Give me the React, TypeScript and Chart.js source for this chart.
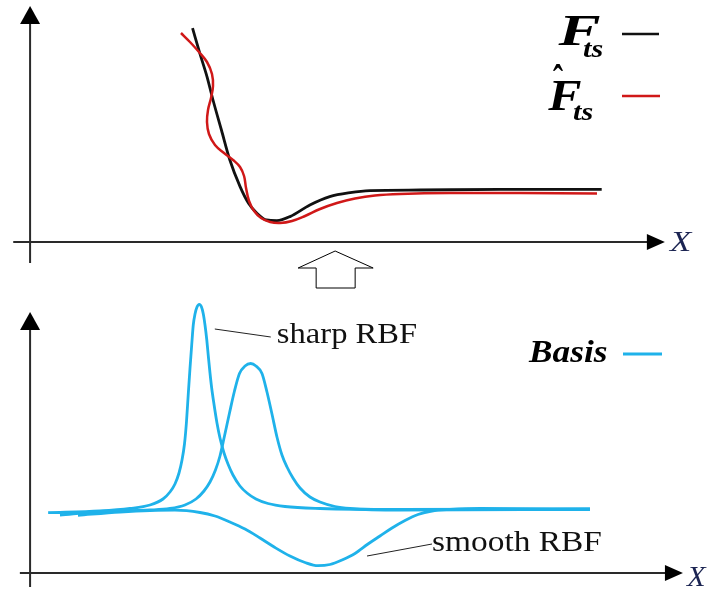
import React, { useEffect, useRef } from "react";
import { Chart, registerables } from "chart.js";

Chart.register(...registerables);

const W = 707;
const TOP_H = 290;
const BOTTOM_H = 302;

// shared separation axis (arbitrary units)
const X_MIN = -0.5;
const X_MAX = 11.25;

// ---------- upper panel: tip–sample force ----------
const TOP_Y_MIN = -2.4;
const TOP_Y_MAX = 12.1;

// exact force F_ts
const ftsX = [2.70, 2.82, 2.94, 3.04, 3.18, 3.32, 3.49, 3.63, 3.77, 3.93, 4.10, 4.32, 4.65, 4.98, 5.32, 5.65, 6.48, 7.81, 9.50];
const ftsY = [10.69, 9.44, 8.27, 7.10, 5.60, 4.10, 2.77, 1.94, 1.44, 1.10, 1.07, 1.27, 1.85, 2.27, 2.47, 2.57, 2.60, 2.63, 2.63];

// reconstructed force F̂_ts (wiggles around the exact curve)
const fitX = [2.508, 2.657, 2.807, 2.940, 3.023, 3.040, 3.007, 2.957, 2.940, 2.973, 3.073, 3.223, 3.373, 3.489, 3.556, 3.589, 3.639, 3.723, 3.839, 3.989, 4.153, 4.353, 4.570, 4.819, 5.100, 5.400, 5.732, 6.148, 6.979, 8.142, 9.422];
const fitY = [10.45, 10.0, 9.5, 9.0, 8.4, 7.8, 7.2, 6.6, 6.0, 5.4, 4.85, 4.45, 4.1, 3.75, 3.3, 2.7, 2.05, 1.55, 1.2, 1.0, 0.95, 1.05, 1.3, 1.65, 1.95, 2.175, 2.325, 2.4, 2.45, 2.45, 2.425];

// ---------- lower panel: radial basis functions ----------
const BOT_Y_MIN = -0.95;
const BOT_Y_MAX = 14.15;

const sharpX = [0.30, 1.162, 1.660, 1.993, 2.209, 2.325, 2.408, 2.475, 2.525, 2.566, 2.599, 2.629, 2.658, 2.686, 2.712, 2.741, 2.774, 2.812, 2.849, 2.879, 2.907, 2.935, 2.962, 2.990, 3.018, 3.056, 3.106, 3.156, 3.223, 3.289, 3.372, 3.488, 3.605, 3.754, 3.954, 4.236, 4.818, 6.148, 9.305];
const sharpY = [3.015, 3.10, 3.225, 3.40, 3.70, 4.05, 4.45, 5.0, 5.65, 6.45, 7.55, 8.95, 10.25, 11.4, 12.4, 12.95, 13.3, 13.435, 13.3, 12.95, 12.40, 11.70, 10.85, 10.0, 9.25, 8.45, 7.50, 6.75, 6.0, 5.45, 4.90, 4.35, 4.0, 3.70, 3.475, 3.325, 3.225, 3.175, 3.20];

const wideX = [0.497, 1.162, 1.993, 2.325, 2.574, 2.757, 2.890, 2.990, 3.081, 3.156, 3.231, 3.314, 3.397, 3.480, 3.572, 3.666, 3.754, 3.854, 3.937, 4.020, 4.103, 4.186, 4.270, 4.369, 4.486, 4.652, 4.818, 5.067, 5.317, 6.148, 9.305];
const wideY = [2.90, 3.075, 3.15, 3.225, 3.40, 3.70, 4.10, 4.55, 5.15, 5.85, 6.85, 8.0, 9.1, 9.975, 10.35, 10.475, 10.35, 9.975, 9.05, 7.95, 6.80, 5.90, 5.30, 4.75, 4.25, 3.80, 3.55, 3.325, 3.225, 3.15, 3.175];

const smoothX = [0.796, 1.494, 1.993, 2.408, 2.824, 3.073, 3.322, 3.572, 3.821, 4.070, 4.319, 4.569, 4.785, 4.984, 5.184, 5.400, 5.616, 5.815, 6.015, 6.231, 6.447, 6.679, 6.979, 7.477, 9.305];
const smoothY = [2.885, 3.05, 3.125, 3.14, 3.025, 2.85, 2.55, 2.20, 1.75, 1.275, 0.85, 0.525, 0.365, 0.425, 0.65, 0.975, 1.45, 1.85, 2.25, 2.625, 2.925, 3.10, 3.175, 3.225, 3.20];

// callouts: leader [start x, y, end x, y] and text [left x, right x, baseline y]
const calloutLabels = ["sharp RBF", "smooth RBF"];
const calloutLeader = [
  [3.07, 12.2, 4.0, 11.8],
  [5.60, 0.85, 6.68, 1.45],
];
const calloutText = [
  [4.12, 6.43, 11.5],
  [6.70, 9.50, 1.1],
];

// axis extents: [x from, x arrow tip, y from, y arrow tip]
const topAxis = [-0.28, 10.55, -1.05, 11.8];
const botAxis = [-0.17, 10.85, -0.7, 13.05];

const BLACK = "#111111";
const RED = "#d01818";
const CYAN = "#1fb2ea";
const AXIS = "#2a2a2a";
const XLABEL = "#1b2452";
const SERIF = '"Liberation Serif", "Times New Roman", serif';

const pts = (xs: number[], ys: number[]) => xs.map((x, i) => ({ x, y: ys[i] }));

// draw text so that its ink spans [left, right] horizontally at the given baseline
function inkText(ctx: CanvasRenderingContext2D, text: string, font: string, color: string, left: number, right: number, baseline: number) {
  ctx.save();
  ctx.font = font;
  ctx.fillStyle = color;
  ctx.textAlign = "left";
  ctx.textBaseline = "alphabetic";
  const m = ctx.measureText(text);
  const inkW = m.actualBoundingBoxLeft + m.actualBoundingBoxRight;
  const s = (right - left) / inkW;
  ctx.translate(left + m.actualBoundingBoxLeft * s, baseline);
  ctx.scale(s, 1);
  ctx.fillText(text, 0, 0);
  ctx.restore();
}

// draw text fitted into an ink box
function inkBox(ctx: CanvasRenderingContext2D, text: string, font: string, color: string, left: number, top: number, right: number, bottom: number) {
  ctx.save();
  ctx.font = font;
  ctx.fillStyle = color;
  ctx.textAlign = "left";
  ctx.textBaseline = "alphabetic";
  const m = ctx.measureText(text);
  const sx = (right - left) / (m.actualBoundingBoxLeft + m.actualBoundingBoxRight);
  const sy = (bottom - top) / (m.actualBoundingBoxAscent + m.actualBoundingBoxDescent);
  ctx.translate(left + m.actualBoundingBoxLeft * sx, top + m.actualBoundingBoxAscent * sy);
  ctx.scale(sx, sy);
  ctx.fillText(text, 0, 0);
  ctx.restore();
}

function drawAxes(chart: any, ext: number[]) {
  const { ctx, scales } = chart;
  const px = (v: number) => scales.x.getPixelForValue(v);
  const py = (v: number) => scales.y.getPixelForValue(v);
  const ox = px(0);
  const oy = py(0);
  const xTip = px(ext[1]);
  const yTip = py(ext[3]);
  ctx.save();
  ctx.strokeStyle = AXIS;
  ctx.fillStyle = "#000";
  ctx.lineWidth = 2;
  ctx.beginPath();
  ctx.moveTo(px(ext[0]), oy);
  ctx.lineTo(xTip - 17, oy);
  ctx.moveTo(ox, py(ext[2]));
  ctx.lineTo(ox, yTip + 17);
  ctx.stroke();
  // arrow heads
  ctx.beginPath();
  ctx.moveTo(xTip, oy);
  ctx.lineTo(xTip - 18, oy - 8);
  ctx.lineTo(xTip - 18, oy + 8);
  ctx.closePath();
  ctx.fill();
  ctx.beginPath();
  ctx.moveTo(ox, yTip);
  ctx.lineTo(ox - 10, yTip + 18);
  ctx.lineTo(ox + 10, yTip + 18);
  ctx.closePath();
  ctx.fill();
  ctx.restore();
  return { xTip, oy };
}

const topDecor = {
  id: "topDecor",
  beforeDatasetsDraw(chart: any) {
    const { ctx, scales } = chart;
    const { xTip, oy } = drawAxes(chart, topAxis);
    inkText(ctx, "X", `italic 29px ${SERIF}`, XLABEL, xTip + 4, xTip + 28, oy + 9);

    // hollow arrow pointing up to the fitted force
    const ax = scales.x.getPixelForValue(5.07);
    const ay = scales.y.getPixelForValue(-0.45);
    ctx.save();
    ctx.strokeStyle = "#000";
    ctx.lineWidth = 1;
    ctx.beginPath();
    ctx.moveTo(ax, ay);
    ctx.lineTo(ax + 38, ay + 17);
    ctx.lineTo(ax + 20, ay + 17);
    ctx.lineTo(ax + 20, ay + 37);
    ctx.lineTo(ax - 19, ay + 37);
    ctx.lineTo(ax - 19, ay + 17);
    ctx.lineTo(ax - 37, ay + 17);
    ctx.closePath();
    ctx.stroke();
    ctx.restore();
  },
  afterDraw(chart: any) {
    const { ctx } = chart;
    const big = `bold italic 44px ${SERIF}`;
    const sub = `bold italic 26px ${SERIF}`;
    // F_ts
    inkText(ctx, "F", big, "#000", 557, 600, 45);
    inkText(ctx, "ts", sub, "#000", 583, 603, 57);
    // F̂_ts
    inkText(ctx, "F", big, "#000", 547, 581, 110);
    inkBox(ctx, "\u02C6", `bold 30px ${SERIF}`, "#000", 553, 65, 563, 72);
    inkText(ctx, "ts", sub, "#000", 573, 593, 120);
    ctx.save();
    ctx.lineWidth = 2.5;
    ctx.strokeStyle = BLACK;
    ctx.beginPath();
    ctx.moveTo(622, 34);
    ctx.lineTo(659, 34);
    ctx.stroke();
    ctx.strokeStyle = RED;
    ctx.beginPath();
    ctx.moveTo(622, 96);
    ctx.lineTo(660, 96);
    ctx.stroke();
    ctx.restore();
  },
};

const bottomDecor = {
  id: "bottomDecor",
  beforeDatasetsDraw(chart: any) {
    const { ctx } = chart;
    const { xTip, oy } = drawAxes(chart, botAxis);
    inkText(ctx, "X", `italic 29px ${SERIF}`, XLABEL, xTip + 3, xTip + 24, oy + 13);
  },
  afterDraw(chart: any) {
    const { ctx, scales } = chart;
    const px = (v: number) => scales.x.getPixelForValue(v);
    const py = (v: number) => scales.y.getPixelForValue(v);
    calloutLabels.forEach((label, i) => {
      const [x0, y0, x1, y1] = calloutLeader[i];
      const [l, r, b] = calloutText[i];
      ctx.save();
      ctx.strokeStyle = "#222";
      ctx.lineWidth = 1;
      ctx.beginPath();
      ctx.moveTo(px(x0), py(y0));
      ctx.lineTo(px(x1), py(y1));
      ctx.stroke();
      ctx.restore();
      inkText(ctx, label, `29px ${SERIF}`, "#111", px(l), px(r), py(b));
    });
    // legend
    inkText(ctx, "Basis", `bold italic 32px ${SERIF}`, "#000", 528, 607, 72);
    ctx.save();
    ctx.strokeStyle = CYAN;
    ctx.lineWidth = 3;
    ctx.beginPath();
    ctx.moveTo(623, 64);
    ctx.lineTo(662, 64);
    ctx.stroke();
    ctx.restore();
  },
};

const baseOptions = (yMin: number, yMax: number): any => ({
  responsive: false,
  maintainAspectRatio: false,
  animation: false,
  devicePixelRatio: 1,
  events: [],
  layout: { padding: 0 },
  plugins: { legend: { display: false }, tooltip: { enabled: false } },
  scales: {
    x: { type: "linear", display: false, min: X_MIN, max: X_MAX },
    y: { type: "linear", display: false, min: yMin, max: yMax },
  },
  elements: { point: { radius: 0 } },
});

// smooth curves: monotone cubic where x increases steadily, bezier tension otherwise
const lineSet = (label: string, xs: number[], ys: number[], color: string, width: number, monotone = true) => ({
  label,
  data: pts(xs, ys),
  borderColor: color,
  borderWidth: width,
  pointRadius: 0,
  fill: false,
  tension: 0.4,
  cubicInterpolationMode: monotone ? "monotone" : "default",
  clip: false,
});

export default function App() {
  const topRef = useRef<HTMLCanvasElement>(null);
  const botRef = useRef<HTMLCanvasElement>(null);

  useEffect(() => {
    const top = new Chart(topRef.current as HTMLCanvasElement, {
      type: "line",
      data: {
        datasets: [
          lineSet("F̂ts", fitX, fitY, RED, 2.5, false),
          lineSet("Fts", ftsX, ftsY, BLACK, 2.8),
        ],
      },
      options: baseOptions(TOP_Y_MIN, TOP_Y_MAX),
      plugins: [topDecor],
    } as any);

    const bottom = new Chart(botRef.current as HTMLCanvasElement, {
      type: "line",
      data: {
        datasets: [
          lineSet("sharp RBF", sharpX, sharpY, CYAN, 2.8),
          lineSet("RBF", wideX, wideY, CYAN, 2.8),
          lineSet("smooth RBF", smoothX, smoothY, CYAN, 2.8),
        ],
      },
      options: baseOptions(BOT_Y_MIN, BOT_Y_MAX),
      plugins: [bottomDecor],
    } as any);

    return () => {
      top.destroy();
      bottom.destroy();
    };
  }, []);

  return (
    <div style={{ position: "absolute", left: 0, top: 0, width: W, height: TOP_H + BOTTOM_H, background: "#fff" }}>
      <canvas ref={topRef} width={W} height={TOP_H} style={{ display: "block" }} />
      <canvas ref={botRef} width={W} height={BOTTOM_H} style={{ display: "block" }} />
    </div>
  );
}
